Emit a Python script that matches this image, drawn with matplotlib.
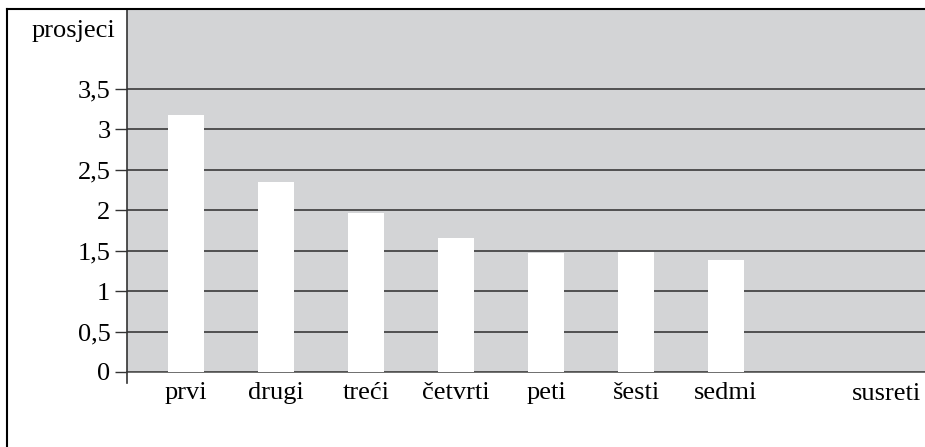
import matplotlib
matplotlib.use("Agg")
import matplotlib.pyplot as plt
from matplotlib.lines import Line2D

categories = ["prvi", "drugi", "treći", "četvrti", "peti", "šesti", "sedmi"]
values = [3.18, 2.35, 1.96, 1.66, 1.47, 1.48, 1.385]
yticks = [0, 0.5, 1, 1.5, 2, 2.5, 3, 3.5]
ytick_labels = ["0", "0,5", "1", "1,5", "2", "2,5", "3", "3,5"]
ylabel = "prosjeci"
xlabel = "susreti"

plt.rcParams['font.family'] = ['Liberation Serif', 'DejaVu Serif']
W, H = 925, 447
fig = plt.figure(figsize=(W / 100, H / 100), dpi=100)
ax = fig.add_axes([127 / W, 1 - 372 / H, (W - 127) / W, (372 - 10) / H])
ax.set_facecolor("#d3d4d6")

x = list(range(len(categories)))
ax.bar(x, values, width=0.4, color="white", zorder=3)
ax.set_xlim(-0.656, 8.211)
ax.set_ylim(0, 4.475)

ax.set_yticks(yticks)
ax.set_yticklabels(ytick_labels, fontsize=19)
ax.set_xticks(x)
ax.set_xticklabels(categories, fontsize=19)
ax.tick_params(axis='x', length=0, pad=7)
ax.tick_params(axis='y', length=9, width=1, color="#333333", pad=3)

ax.yaxis.grid(True, color="#3a3a3a", linewidth=1.2, zorder=1)
ax.set_axisbelow(True)

for s in ["top", "right", "left"]:
    ax.spines[s].set_visible(False)
ax.spines["bottom"].set_color("#555555")
ax.spines["bottom"].set_linewidth(1.2)

ax.add_line(Line2D([0, 0], [-11 / 362, 1], transform=ax.transAxes,
                   color="#333333", linewidth=1.2, clip_on=False, zorder=5))

fig.text(115 / W, 1 - 31 / H, ylabel, ha="right", va="center", fontsize=19)
fig.text(921 / W, 1 - 394 / H, xlabel, ha="right", va="center", fontsize=19)

# figure frame (top and left)
fig.add_artist(Line2D([7 / W, 7 / W], [0, 1 - 9 / H], transform=fig.transFigure,
                      color="black", linewidth=1.5))
fig.add_artist(Line2D([7 / W, 1], [1 - 9 / H, 1 - 9 / H], transform=fig.transFigure,
                      color="black", linewidth=1.5))

fig.savefig("out.png", dpi=100)
